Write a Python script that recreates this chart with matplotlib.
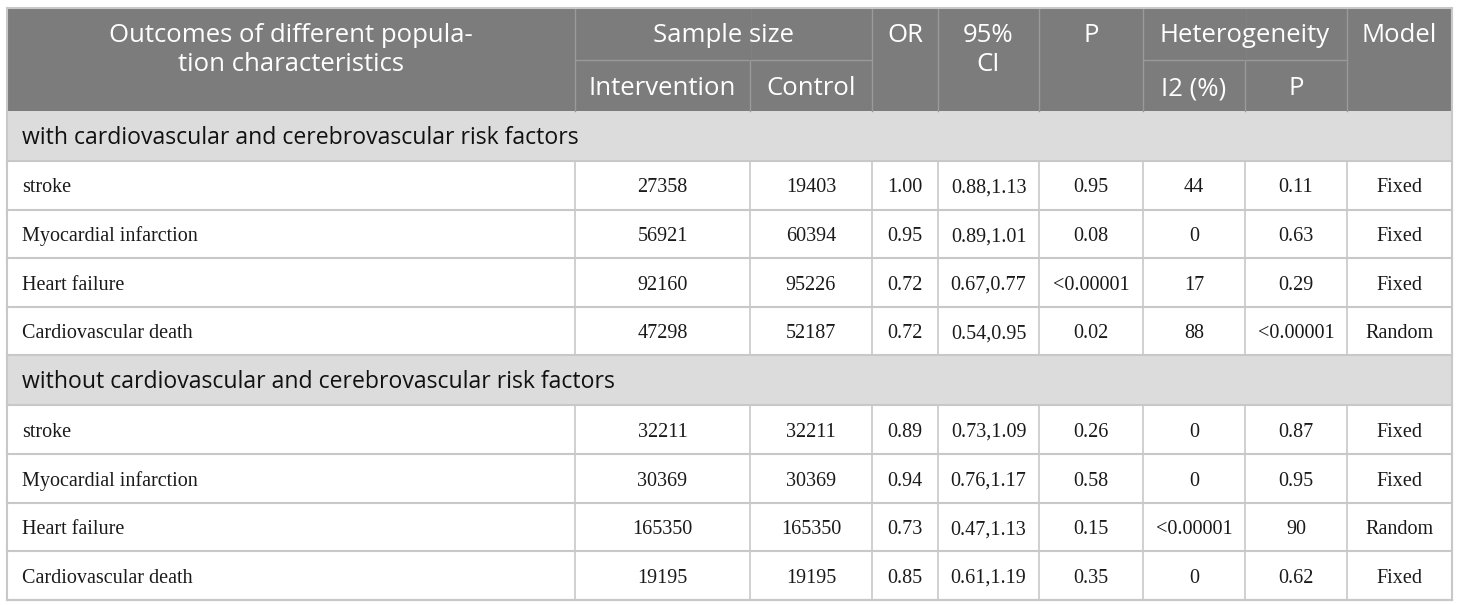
import matplotlib.pyplot as plt
import matplotlib.patches as mpatches

# ── Table data ──────────────────────────────────────────────────────────── #
groups = [
    "with cardiovascular and cerebrovascular risk factors",
    "without cardiovascular and cerebrovascular risk factors",
]
outcomes = ["stroke", "Myocardial infarction", "Heart failure", "Cardiovascular death"]

intervention_with = [27358, 56921, 92160, 47298]
control_with = [19403, 60394, 95226, 52187]
or_with = ["1.00", "0.95", "0.72", "0.72"]
ci_with = ["0.88,1.13", "0.89,1.01", "0.67,0.77", "0.54,0.95"]
p_with = ["0.95", "0.08", "<0.00001", "0.02"]
i2_with = ["44", "0", "17", "88"]
phet_with = ["0.11", "0.63", "0.29", "<0.00001"]
model_with = ["Fixed", "Fixed", "Fixed", "Random"]

intervention_without = [32211, 30369, 165350, 19195]
control_without = [32211, 30369, 165350, 19195]
or_without = ["0.89", "0.94", "0.73", "0.85"]
ci_without = ["0.73,1.09", "0.76,1.17", "0.47,1.13", "0.61,1.19"]
p_without = ["0.26", "0.58", "0.15", "0.35"]
i2_without = ["0", "0", "<0.00001", "0"]
phet_without = ["0.87", "0.95", "90", "0.62"]
model_without = ["Fixed", "Fixed", "Random", "Fixed"]

# ── Layout (pixels) ─────────────────────────────────────────────────────── #
W, H = 1460, 605
COLS = [7, 575, 750, 872, 938, 1039, 1143, 1245, 1347, 1452]
HEAD_TOP, HEAD_MID, HEAD_BOT = 8, 60, 111
GROUP_H, ROW_H = 50, 48.6

HEAD_BG = "#7b7c7b"
HEAD_LINE = "#9a9a9a"
GROUP_BG = "#dcdcdc"
GRID = "#c8c8c8"

SANS = ["Open Sans", "DejaVu Sans"]
SERIF = ["Liberation Serif", "DejaVu Serif"]

fig = plt.figure(figsize=(W / 100, H / 100), dpi=100)
ax = fig.add_axes([0, 0, 1, 1])
ax.set_xlim(0, W)
ax.set_ylim(H, 0)
ax.axis("off")


def cell_bg(x0, x1, y0, y1, color):
    ax.add_patch(mpatches.Rectangle((x0, y0), x1 - x0, y1 - y0,
                                    facecolor=color, edgecolor="none", zorder=1))


def center(i, j=None):
    j = i if j is None else j
    return (COLS[i] + COLS[j + 1]) / 2


# header
cell_bg(COLS[0], COLS[-1], HEAD_TOP, HEAD_BOT, HEAD_BG)
for x in COLS[1:-1]:
    ax.plot([x, x], [HEAD_TOP, HEAD_BOT], color=HEAD_LINE, lw=1.0, zorder=2)
for i, j in [(1, 2), (6, 7)]:
    ax.plot([COLS[i], COLS[j + 1]], [HEAD_MID, HEAD_MID], color=HEAD_LINE, lw=1.0, zorder=2)
# spanning cells: hide the inner vertical line in the top half
for i in [2, 7]:
    ax.plot([COLS[i], COLS[i]], [HEAD_TOP + 1, HEAD_MID - 1], color=HEAD_BG, lw=1.6, zorder=2)

hkw = dict(color="white", family=SANS, fontsize=18.5, ha="center", va="baseline", zorder=3)
line1, line2, line3 = 42, 71, 95
ax.text(center(0), line1, "Outcomes of different popula-", **hkw)
ax.text(center(0), line2, "tion characteristics", **hkw)
ax.text(center(1, 2), line1, "Sample size", **hkw)
ax.text(center(1), line3, "Intervention", **hkw)
ax.text(center(2), line3, "Control", **hkw)
ax.text(center(3), line1, "OR", **hkw)
ax.text(center(4), line1, "95%", **hkw)
ax.text(center(4), line2, "CI", **hkw)
ax.text(center(5), line1, "P", **hkw)
ax.text(center(6, 7), line1, "Heterogeneity", **hkw)
ax.text(center(6), line3, "I2 (%)", **hkw)
ax.text(center(7), line3, "P", **hkw)
ax.text(center(8), line1, "Model", **hkw)

# body
blocks = [
    (intervention_with, control_with, or_with, ci_with, p_with, i2_with, phet_with, model_with),
    (intervention_without, control_without, or_without, ci_without, p_without,
     i2_without, phet_without, model_without),
]
bkw = dict(color="#1a1a1a", family=SERIF, fontsize=14.5, va="baseline", zorder=3)

y = HEAD_BOT
for title, cols in zip(groups, blocks):
    cell_bg(COLS[0], COLS[-1], y, y + GROUP_H, GROUP_BG)
    ax.text(22, y + GROUP_H / 2 + 2, title, color="#111111", family=SANS,
            fontsize=16.6, va="center", ha="left", zorder=3)
    ax.plot([COLS[0], COLS[-1]], [y + GROUP_H, y + GROUP_H], color=GRID, lw=1.5, zorder=2)
    y += GROUP_H
    for r, name in enumerate(outcomes):
        yb = y + 31.5
        ax.text(22, yb, name, ha="left", **bkw)
        for c, values in enumerate(cols, start=1):
            ax.text(center(c), yb, str(values[r]), ha="center", **bkw)
        for x in COLS[1:-1]:
            ax.plot([x, x], [y, y + ROW_H], color=GRID, lw=1.2, zorder=2)
        y += ROW_H
        ax.plot([COLS[0], COLS[-1]], [y, y], color=GRID, lw=1.5, zorder=2)

# outer border
ax.add_patch(mpatches.Rectangle((COLS[0], HEAD_TOP), COLS[-1] - COLS[0], y - HEAD_TOP,
                                facecolor="none", edgecolor=GRID, lw=1.5, zorder=4))

fig.savefig("out.png", dpi=100)
